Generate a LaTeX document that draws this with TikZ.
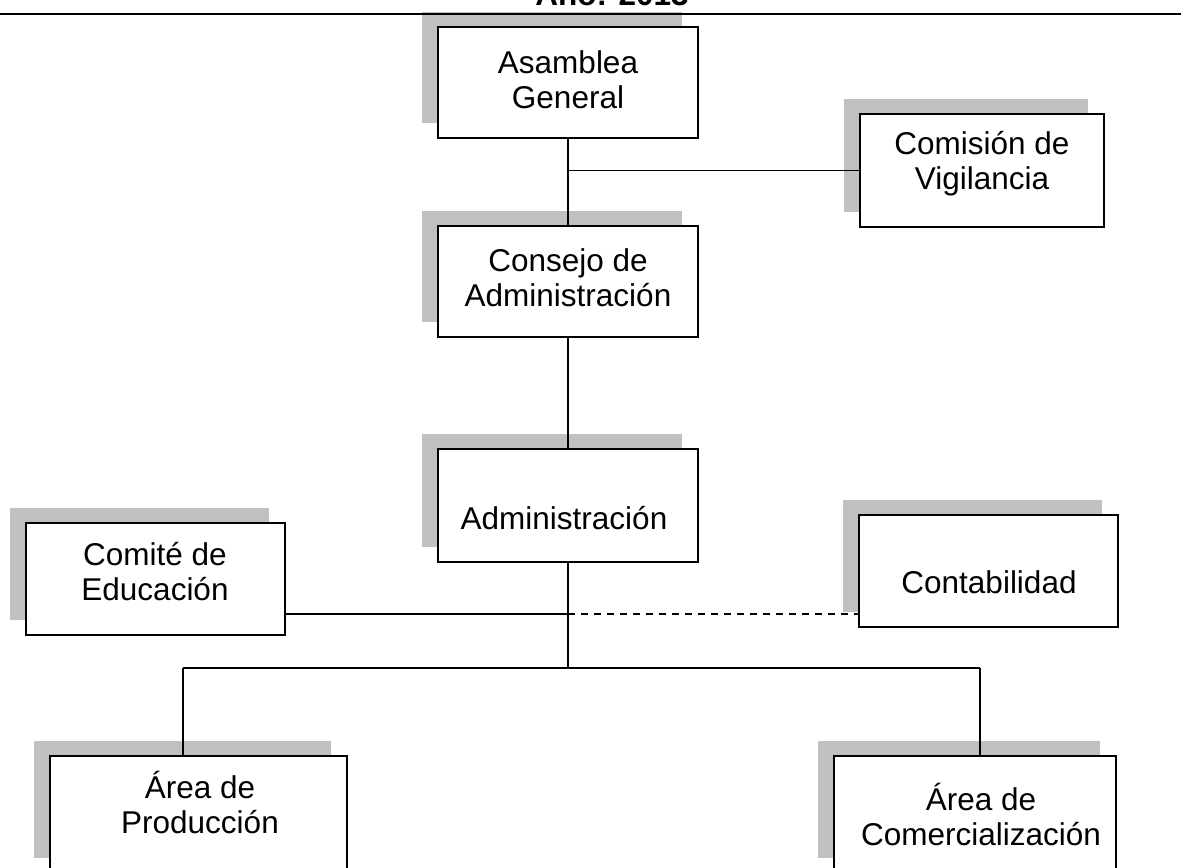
\documentclass[tikz,border=0pt]{standalone}
\usepackage{fontspec}
\setmainfont{Liberation Sans}
\usepackage{xcolor}
\usepackage{tikz}
\usetikzlibrary{shadows}
\definecolor{orgShadow}{RGB}{192,192,192}

\begin{document}
\begin{tikzpicture}[x=0.5pt,y=-0.5pt,
  unit/.style={draw,line width=0.9pt,fill=white,inner sep=0pt,
    drop shadow={shadow xshift=-8pt,shadow yshift=7.5pt,fill=orgShadow,opacity=1}},
  txt/.style={align=center,inner sep=0pt,font=\fontsize{15.75pt}{17.5pt}\selectfont},
  link/.style={line width=0.9pt},
  dotline/.style={dash pattern=on 3.5pt off 3pt}]
\useasboundingbox (0,0) rectangle (1181,867);
\clip (0,0) rectangle (1181,867);

% Boxes with grey shadows
\node[unit,minimum width=130pt,minimum height=55.5pt] (asam) at (568,82.5) {};
\node[unit,minimum width=122pt,minimum height=56.5pt] (comis) at (982,170.5) {};
\node[unit,minimum width=130pt,minimum height=55.5pt] (consejo) at (568,281.5) {};
\node[unit,minimum width=130pt,minimum height=56.5pt] (admin) at (568,505.5) {};
\node[unit,minimum width=129.5pt,minimum height=56pt] (comite) at (155.5,579) {};
\node[unit,minimum width=129.5pt,minimum height=56pt] (conta) at (988.5,571) {};
\node[unit,minimum width=148.5pt,minimum height=58.5pt] (prod) at (198.5,814.5) {};
\node[unit,minimum width=141pt,minimum height=58.5pt] (comer) at (975,814.5) {};

% Labels
\node[txt] (asamT) at (568,80) {Asamblea\\General};
\node[txt] (comisT) at (982,163.5) {Comisión de\\Vigilancia};
\node[txt] (consejoT) at (568,277.5) {Consejo de\\Administración};
\node[txt] (adminT) at (564,518) {Administración};
\node[txt] (comiteT) at (155,571.5) {Comité de\\Educación};
\node[txt] (contaT) at (989,582) {Contabilidad};
\node[txt] (prodT) at (200,802.5) {Área de\\Producción};
\node[txt] (comerT) at (981,814.5) {Área de\\Comercialización};

% Connectors
\coordinate (mid) at (568,614);
\coordinate (busM) at (568,668);
\coordinate (busL) at (183,668);
\coordinate (busR) at (980,668);
\draw[link] (asam.south) -- (consejo.north);
\draw[link] (comis.west) -- (comis.west -| asam.south);
\draw[link] (consejo.south) -- (admin.north);
\draw[link] (admin.south) -- (busM);
\draw[link] (comite.east |- mid) -- (mid);
\draw[link,dotline] (mid) -- (conta.west |- mid);
\draw[link] (busL) -- (busR);
\draw[link] (busL) -- (busL |- prod.north);
\draw[link] (busR) -- (busR |- comer.north);

% Heading
\draw[link] (0,14) -- (1181,14);
\node[anchor=base,inner sep=0pt,font=\bfseries\fontsize{15.75pt}{17.5pt}\selectfont] (title) at (612,5) {Año: 2013};
\end{tikzpicture}
\end{document}
